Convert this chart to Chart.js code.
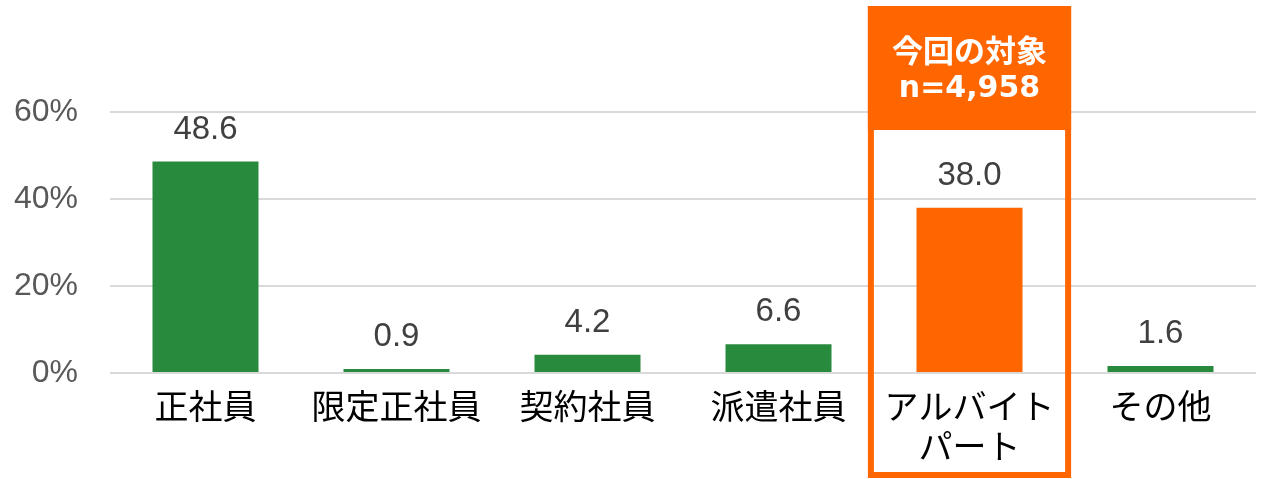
<!DOCTYPE html>
<html>
<head>
<meta charset="utf-8">
<script src="https://cdn.jsdelivr.net/npm/chart.js@4.4.1/dist/chart.umd.min.js"></script>
<style>
html,body{margin:0;padding:0;background:#fff;}
#wrap{width:1263px;height:479px;position:relative;}
</style>
</head>
<body>
<div id="wrap"><canvas id="c" width="1263" height="479"></canvas></div>
<script>
const categories = ["正社員", "限定正社員", "契約社員", "派遣社員", ["アルバイト", "パート"], "その他"];
const values = [48.6, 0.9, 4.2, 6.6, 38.0, 1.6];
const valueLabels = ["48.6", "0.9", "4.2", "6.6", "38.0", "1.6"];
const barColors = ["#288a3c", "#288a3c", "#288a3c", "#288a3c", "#ff6600", "#288a3c"];
const yTicks = [0, 20, 40, 60];
const highlightIndex = 4;
const highlightTitle = ["今回の対象", "n=4,958"];

const valueLabelPlugin = {
  id: 'valueLabels',
  afterDatasetsDraw(chart) {
    const ctx = chart.ctx;
    const meta = chart.getDatasetMeta(0);
    ctx.save();
    ctx.font = '33px "Liberation Sans", Arial, sans-serif';
    ctx.fillStyle = '#404040';
    ctx.textAlign = 'center';
    ctx.textBaseline = 'alphabetic';
    meta.data.forEach((bar, i) => {
      ctx.fillText(valueLabels[i], bar.x, bar.y - 23);
    });
    ctx.restore();
  }
};

const highlightPlugin = {
  id: 'highlight',
  afterDraw(chart) {
    const ctx = chart.ctx;
    const xs = chart.scales.x;
    const cx = xs.getPixelForValue(highlightIndex);
    const catW = xs.width / categories.length;
    const half = catW * 0.532;
    const left = cx - half, right = cx + half;
    const top = 6, bottom = 478, headBottom = 130;
    const bw = 6;
    ctx.save();
    ctx.fillStyle = '#ff6600';
    ctx.fillRect(left, top, right - left, headBottom - top);
    ctx.strokeStyle = '#ff6600';
    ctx.lineWidth = bw;
    ctx.strokeRect(left + bw / 2, top + bw / 2, right - left - bw, bottom - top - bw);
    ctx.fillStyle = '#ffffff';
    ctx.textAlign = 'center';
    ctx.textBaseline = 'middle';
    ctx.font = 'bold 31px "Noto Sans CJK JP", sans-serif';
    ctx.fillText(highlightTitle[0], cx, 50);
    ctx.font = 'bold 30px "DejaVu Sans", sans-serif';
    ctx.fillText(highlightTitle[1], cx, 89);
    ctx.restore();
  }
};

new Chart(document.getElementById('c'), {
  type: 'bar',
  data: {
    labels: categories,
    datasets: [{
      data: values,
      backgroundColor: barColors,
      borderWidth: 0,
      categoryPercentage: 1,
      barPercentage: 0.555
    }]
  },
  options: {
    responsive: false,
    animation: false,
    devicePixelRatio: 1,
    layout: { padding: { top: 112, right: 7, left: 0, bottom: 0 } },
    plugins: { legend: { display: false }, tooltip: { enabled: false } },
    scales: {
      x: {
        grid: { display: false, drawTicks: false },
        border: { display: false },
        ticks: {
          color: '#000000',
          font: { family: '"Noto Sans CJK JP", sans-serif', size: 34, lineHeight: 1.18 },
          padding: 13,
          maxRotation: 0,
          autoSkip: false
        },
        afterFit(s) { s.height = 106; }
      },
      y: {
        min: 0, max: 60,
        afterBuildTicks(s) { s.ticks = yTicks.map(v => ({ value: v })); },
        grid: { color: '#d9d9d9', lineWidth: 2, drawTicks: false },
        border: { display: false },
        ticks: {
          color: '#595959',
          font: { family: '"Liberation Sans", Arial, sans-serif', size: 32 },
          padding: 32,
          callback: v => v + '%'
        },
        afterFit(s) { s.width = 110; }
      }
    }
  },
  plugins: [valueLabelPlugin, highlightPlugin]
});
</script>
</body>
</html>
